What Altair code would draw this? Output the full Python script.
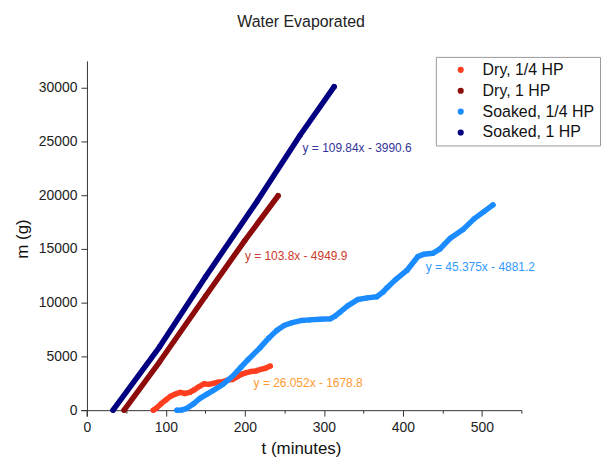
import altair as alt
import pandas as pd

series_names = ["Dry, 1/4 HP", "Dry, 1 HP", "Soaked, 1/4 HP", "Soaked, 1 HP"]
series_colors = ["#ff3d1f", "#8e0b0b", "#1a8cff", "#000080"]

# Dry, 1/4 HP
dry_q_t = [84, 88, 94, 100, 106, 112, 118, 124, 130, 136, 142, 148, 154, 160, 166,
           172, 178, 184, 190, 196, 202, 208, 214, 220, 226, 232]
dry_q_m = [0, 200, 600, 950, 1300, 1500, 1650, 1550, 1650, 1900, 2200, 2450, 2400, 2500,
           2600, 2650, 2800, 2850, 3100, 3350, 3500, 3600, 3650, 3800, 3900, 4100]
# Dry, 1 HP
dry_1_t = [47, 92, 150, 200, 242]
dry_1_m = [0, 4500, 10600, 15800, 19950]
# Soaked, 1/4 HP
soak_q_t = [114, 120, 126, 135, 143, 152, 160, 172, 185, 195, 204, 219, 230, 240, 250,
            260, 272, 282, 295, 308, 314, 320, 330, 343, 355, 367, 375, 380, 390, 405,
            419, 426, 438, 447, 460, 476, 490, 503, 514]
soak_q_m = [0, 20, 150, 600, 1100, 1500, 1850, 2400, 3200, 4000, 4700, 5800, 6700, 7400,
            7900, 8150, 8350, 8400, 8450, 8500, 8750, 9100, 9700, 10300, 10450, 10550,
            11000, 11400, 12100, 13000, 14300, 14500, 14600, 15000, 16000, 16800, 17800,
            18500, 19100]
# Soaked, 1 HP
soak_1_t = [33, 92, 150, 216, 270, 313]
soak_1_m = [0, 5900, 12400, 19500, 25600, 30100]

eq_texts = ["y = 109.84x - 3990.6", "y = 103.8x - 4949.9",
            "y = 45.375x - 4881.2", "y = 26.052x - 1678.8"]
eq_t = [273, 200, 429, 211]
eq_m = [24350, 14350, 13330, 2500]
eq_colors = ["#34349a", "#cc3a2a", "#3399ff", "#ff9933"]

rows = []
for name, ts, ms in [(series_names[0], dry_q_t, dry_q_m),
                     (series_names[1], dry_1_t, dry_1_m),
                     (series_names[2], soak_q_t, soak_q_m),
                     (series_names[3], soak_1_t, soak_1_m)]:
    for i, (t, m) in enumerate(zip(ts, ms)):
        rows.append({"series": name, "t": t, "m": m, "ord": i})
df = pd.DataFrame(rows)
eq_df = pd.DataFrame({"t": eq_t, "m": eq_m, "text": eq_texts, "col": eq_colors})

X_DOMAIN = [-8, 550]
Y_DOMAIN = [-550, 32500]
W, H = 443, 357
y_axis_off = -(0 - X_DOMAIN[0]) * W / (X_DOMAIN[1] - X_DOMAIN[0])
x_axis_off = -(0 - Y_DOMAIN[0]) * H / (Y_DOMAIN[1] - Y_DOMAIN[0])

FONT = "Liberation Sans"

x_enc = alt.X(
    "t:Q",
    scale=alt.Scale(domain=X_DOMAIN, nice=False, zero=False),
    axis=alt.Axis(
        title="t (minutes)",
        values=list(range(0, 551, 50)),
        labelExpr="datum.value % 100 === 0 ? datum.label : ''",
        tickSize={"condition": {"test": "datum.value % 100 !== 0", "value": 3}, "value": 6},
        offset=x_axis_off,
        grid=False,
        labelPadding=4,
        titlePadding=7,
    ),
)
y_enc = alt.Y(
    "m:Q",
    scale=alt.Scale(domain=Y_DOMAIN, nice=False, zero=False),
    axis=alt.Axis(
        title="m (g)",
        values=list(range(0, 32501, 2500)),
        labelExpr="datum.value % 5000 === 0 ? datum.label : ''",
        format="d",
        tickSize={"condition": {"test": "datum.value % 5000 !== 0", "value": 3}, "value": 6},
        offset=y_axis_off,
        grid=False,
        labelPadding=4,
        titlePadding=7,
    ),
)
color_scale = alt.Scale(domain=series_names, range=series_colors)

base = alt.Chart(df)
points = base.mark_circle(size=28, opacity=1).encode(
    x=x_enc,
    y=y_enc,
    color=alt.Color(
        "series:N",
        scale=color_scale,
        sort=series_names,
        legend=alt.Legend(
            orient="none",
            legendX=357,
            legendY=-4,
            title=None,
            labelFontSize=16,
            labelFont=FONT,
            labelColor="#111",
            symbolType="circle",
            symbolSize=22,
            padding=5,
            rowPadding=5,
            symbolOffset=12,
            labelOffset=14,
            strokeColor="#999",
            fillColor="white",
            cornerRadius=0,
        ),
    ),
)
lines = base.mark_line(strokeWidth=5.5, strokeCap="round", strokeJoin="round").encode(
    x="t:Q",
    y="m:Q",
    color=alt.Color("series:N", scale=color_scale, legend=None),
    order="ord:Q",
)
texts = alt.Chart(eq_df).mark_text(
    align="left", baseline="middle", fontSize=12, font=FONT
).encode(
    x="t:Q",
    y="m:Q",
    text="text:N",
    color=alt.Color("col:N", scale=None),
)

chart = (
    alt.layer(points, lines, texts)
    .properties(
        width=W,
        height=H,
        title=alt.Title(
            "Water Evaporated",
            fontSize=16,
            fontWeight="normal",
            font=FONT,
            color="#222",
            anchor="middle",
            offset=27,
        ),
        padding={"left": 5, "top": 4, "right": 0, "bottom": 0},
    )
    .configure_view(stroke=None)
    .configure_axis(
        domainColor="#333",
        tickColor="#333",
        labelColor="#222",
        titleColor="#111",
        labelFont=FONT,
        titleFont=FONT,
        labelFontSize=14,
        titleFontSize=17,
        titleFontWeight="normal",
    )
)

chart.save("out.html", embed_options={"renderer": "svg", "actions": False})
